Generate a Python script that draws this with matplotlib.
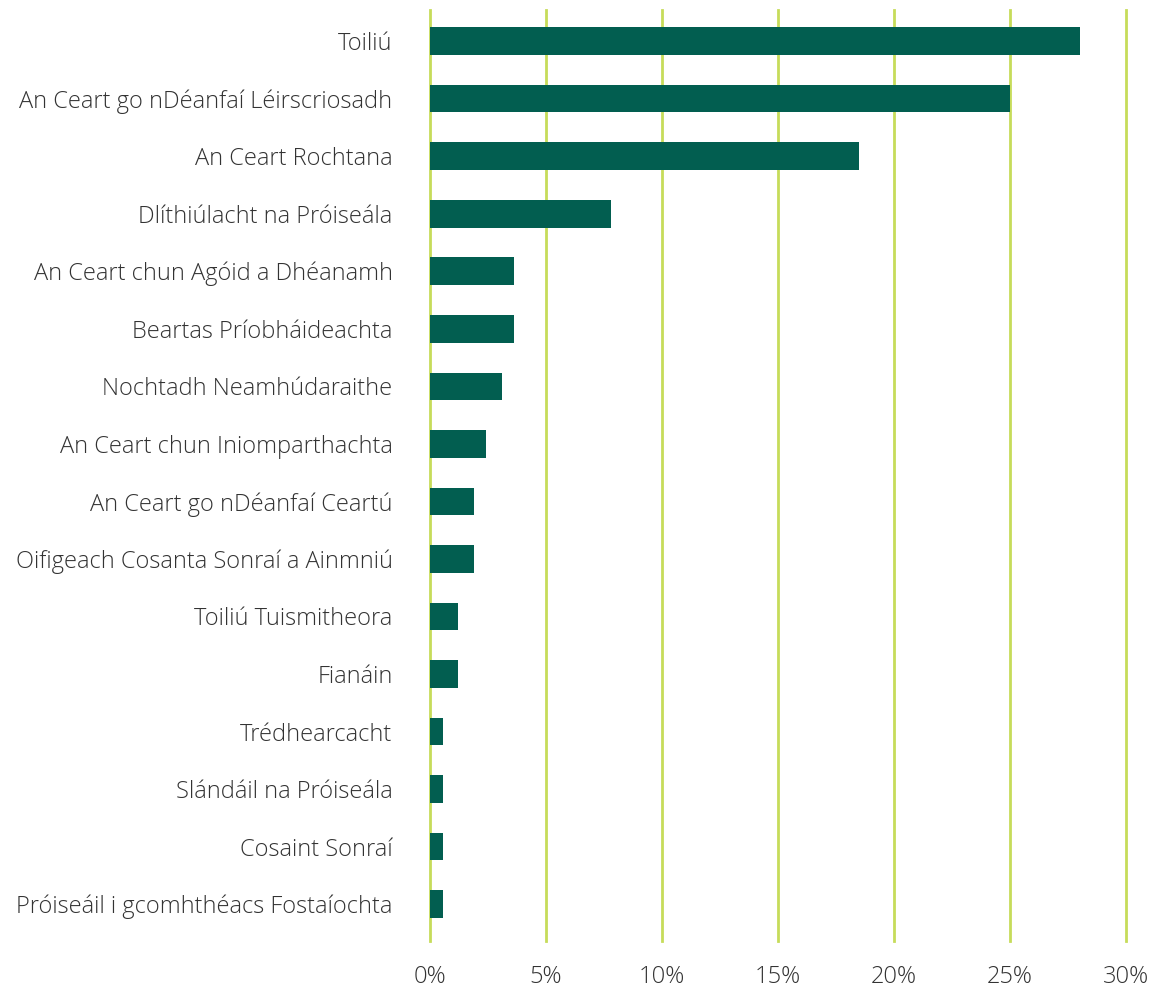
import matplotlib
matplotlib.use("Agg")
import matplotlib.pyplot as plt
from matplotlib.ticker import FuncFormatter

categories = [
    "Toiliú",
    "An Ceart go nDéanfaí Léirscriosadh",
    "An Ceart Rochtana",
    "Dlíthiúlacht na Próiseála",
    "An Ceart chun Agóid a Dhéanamh",
    "Beartas Príobháideachta",
    "Nochtadh Neamhúdaraithe",
    "An Ceart chun Iniomparthachta",
    "An Ceart go nDéanfaí Ceartú",
    "Oifigeach Cosanta Sonraí a Ainmniú",
    "Toiliú Tuismitheora",
    "Fianáin",
    "Trédhearcacht",
    "Slándáil na Próiseála",
    "Cosaint Sonraí",
    "Próiseáil i gcomhthéacs Fostaíochta",
]
values = [28.0, 25.0, 18.5, 7.8, 3.6, 3.6, 3.1, 2.4, 1.9, 1.9, 1.2, 1.2, 0.55, 0.55, 0.55, 0.55]
xticks = [0, 5, 10, 15, 20, 25, 30]

plt.rcParams["font.family"] = ["Open Sans", "DejaVu Sans"]

fig = plt.figure(figsize=(11.58, 9.92), dpi=100)
ax = fig.add_axes([430 / 1158, 1 - 941 / 992, 696 / 1158, 931 / 992])

ypos = list(range(len(categories)))
ax.barh(ypos, values, height=0.48, color="#025E50", zorder=3)

ax.set_xlim(0, 30)
ax.set_ylim(len(categories) - 1 + 0.64, -0.54)
ax.set_xticks(xticks)
ax.xaxis.set_major_formatter(FuncFormatter(lambda v, _: f"{v:.0f}%"))
ax.set_yticks(ypos)
ax.set_yticklabels(categories)
ax.grid(axis="x", color="#C6DC5A", linewidth=2, zorder=0)
for gl in ax.get_xgridlines():
    gl.set_clip_on(False)
for s in ax.spines.values():
    s.set_visible(False)
ax.tick_params(axis="both", length=0, labelsize=17, labelcolor="#333333")
ax.tick_params(axis="y", pad=27)
ax.tick_params(axis="x", pad=17)
for lbl in ax.get_xticklabels() + ax.get_yticklabels():
    lbl.set_fontweight("light")

fig.savefig("out.png", dpi=100)
